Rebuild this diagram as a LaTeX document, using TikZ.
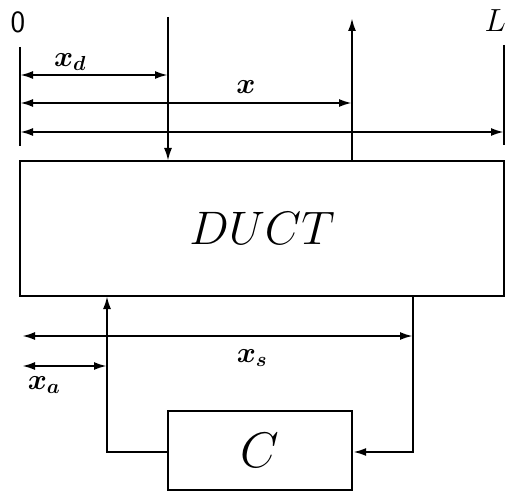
\documentclass[tikz,border=0pt]{standalone}
\usepackage{fix-cm}
\usetikzlibrary{arrows.meta}
\begin{document}
\begin{tikzpicture}[x=1pt,y=-1pt,line width=2.2pt,
  >={Latex[length=13pt,width=8pt]},
  blockbox/.style={draw,inner sep=0pt},
  lbl/.style={inner sep=0pt,font=\fontsize{29}{31}\selectfont\boldmath}]
\useasboundingbox (0,0) rectangle (506,492);
% blocks
\node[blockbox,minimum width=484pt,minimum height=135pt,font=\fontsize{47}{50}\selectfont] (duct) at (262,228.5) {$DUCT$};
\node[blockbox,minimum width=184pt,minimum height=79pt,font=\fontsize{50}{54}\selectfont] (c) at (260,450.5) {$C$};
% end texts
\node[inner sep=0pt,font=\fontsize{31}{33}\selectfont\sffamily] (zerolbl) at (18,22) {0};
\node[inner sep=0pt,anchor=east,font=\fontsize{32}{34}\selectfont] (Llbl) at (507,21) {$L$};
% reference coordinates
\coordinate (z0) at (20,47);
\coordinate (z1) at (20,146);
\coordinate (l0) at (504,45);
\coordinate (l1) at (504,145);
\coordinate (din) at (168,17);
\coordinate (dbot) at (168,161);
\coordinate (xtop) at (352,18);
\coordinate (xbot) at (352,161);
\coordinate (sbot) at (413,296);
\coordinate (scorner) at (413,452);
\coordinate (acorner) at (107,452);
\coordinate (atop) at (107,296);
\coordinate (xdl) at (20,75);
\coordinate (xdr) at (168,75);
\coordinate (xl) at (20,103);
\coordinate (xr) at (352,103);
\coordinate (Ll) at (20,132);
\coordinate (Lr) at (504,132);
\coordinate (xsl) at (22,336);
\coordinate (xsr) at (413,336);
\coordinate (xal) at (22,366);
\coordinate (xar) at (107,366);
% ends
\draw (z0) -- (z1);
\draw (l0) -- (l1);
% input / output of duct
\draw[->] (din) -- (dbot);
\draw[->] (xbot) -- (xtop);
% dimension arrows
\draw[<->] (xdl) -- (xdr);
\draw[<->] (xl) -- (xr);
\draw[<->] (Ll) -- (Lr);
\draw[<->] (xsl) -- (xsr);
\draw[<->] (xal) -- (xar);
% feedback loop
\draw[->] (sbot) -- (scorner) -- (c.east |- scorner);
\draw[->] (c.west |- acorner) -- (acorner) -- (atop);
% labels
\node[lbl] (xdlbl) at (70,62) {$x_d$};
\node[lbl] (xlbl) at (246,87) {$x$};
\node[lbl] (xslbl) at (252,358) {$x_s$};
\node[lbl] (xalbl) at (44,385) {$x_a$};
\end{tikzpicture}
\end{document}
